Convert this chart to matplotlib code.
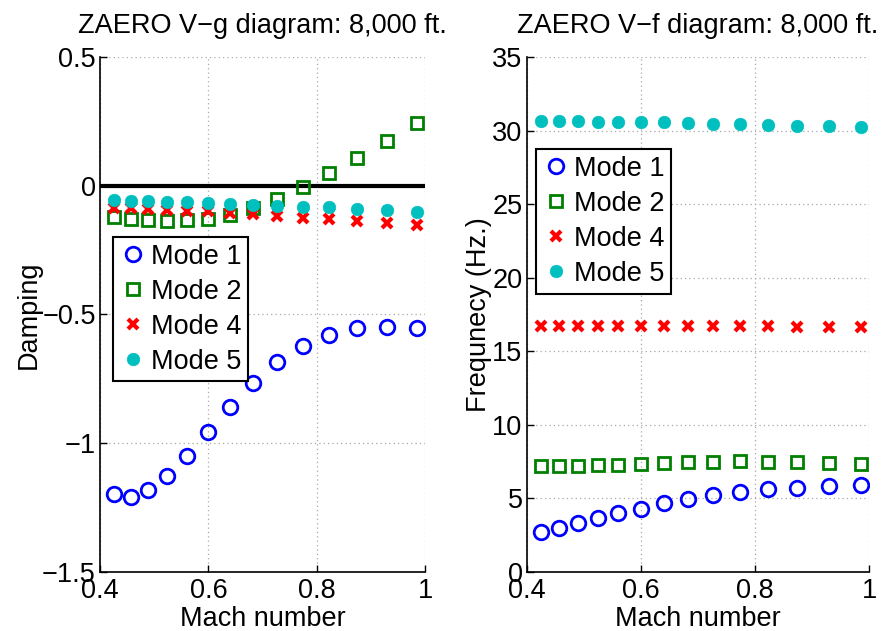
import matplotlib
matplotlib.use('Agg')
import matplotlib.pyplot as plt

plt.rcParams['font.family'] = ['Liberation Sans', 'DejaVu Sans']
plt.rcParams['font.size'] = 19.5

mach = [0.425, 0.457, 0.489, 0.524, 0.560, 0.600, 0.640, 0.682, 0.727,
        0.774, 0.823, 0.874, 0.929, 0.985]

# damping (V-g)
g_mode1 = [-1.198, -1.208, -1.182, -1.126, -1.049, -0.957, -0.859, -0.766,
           -0.685, -0.622, -0.578, -0.553, -0.547, -0.552]
g_mode2 = [-0.121, -0.128, -0.134, -0.137, -0.135, -0.128, -0.112, -0.086,
           -0.052, -0.006, 0.048, 0.108, 0.173, 0.244]
g_mode4 = [-0.085, -0.088, -0.091, -0.094, -0.097, -0.100, -0.105, -0.110,
           -0.118, -0.124, -0.131, -0.136, -0.143, -0.151]
g_mode5 = [-0.056, -0.058, -0.061, -0.064, -0.065, -0.066, -0.069, -0.074,
           -0.078, -0.082, -0.084, -0.091, -0.095, -0.101]

# frequency (V-f)
f_mode1 = [2.75, 2.98, 3.30, 3.64, 3.98, 4.30, 4.66, 4.95, 5.23, 5.43, 5.61,
           5.73, 5.84, 5.93]
f_mode2 = [7.18, 7.18, 7.20, 7.25, 7.30, 7.34, 7.39, 7.45, 7.50, 7.52, 7.50,
           7.45, 7.41, 7.32]
f_mode4 = [16.73, 16.73, 16.73, 16.73, 16.73, 16.73, 16.73, 16.73, 16.73,
           16.71, 16.71, 16.68, 16.68, 16.66]
f_mode5 = [30.66, 30.66, 30.64, 30.61, 30.59, 30.57, 30.55, 30.50, 30.45,
           30.43, 30.39, 30.34, 30.30, 30.23]

labels = ['Mode 1', 'Mode 2', 'Mode 4', 'Mode 5']
xticks = [0.4, 0.6, 0.8, 1.0]
xticklabels = ['0.4', '0.6', '0.8', '1']
g_ticks = [-1.5, -1.0, -0.5, 0.0, 0.5]
g_ticklabels = ['\u22121.5', '\u22121', '\u22120.5', '0', '0.5']
f_ticks = [0, 5, 10, 15, 20, 25, 30, 35]

styles = [
    dict(marker='o', mfc='none', mec='#0000ff', ms=10.5, mew=2.0, ls='none'),
    dict(marker='s', mfc='none', mec='#008000', ms=9, mew=2.0, ls='none'),
    dict(marker='x', mfc='none', mec='#ff0000', ms=7.5, mew=3.0, ls='none'),
    dict(marker='o', mfc='#00bfbf', mec='#00bfbf', ms=9, mew=0.5, ls='none'),
]


def style_axes(ax):
    ax.spines['top'].set_visible(False)
    ax.spines['right'].set_visible(False)
    ax.spines['left'].set_linewidth(1.2)
    ax.spines['bottom'].set_linewidth(1.2)
    ax.grid(True, ls=(0, (1, 2.5)), color='#a8a8a8', lw=0.9)
    ax.set_axisbelow(True)
    ax.tick_params(direction='in', length=5, width=1.0)
    ax.tick_params(axis='x', pad=4)
    ax.tick_params(axis='y', pad=3)
    ax.set_xlim(0.4, 1.0)
    ax.set_xticks(xticks)
    ax.set_xticklabels(xticklabels)


fig = plt.figure(figsize=(8.86, 6.31), dpi=100)

ax_g = fig.add_axes([0.1129, 0.0935, 0.3672, 0.8162])
ax_f = fig.add_axes([0.5945, 0.0935, 0.3867, 0.8162])

# V-g
ax_g.axhline(0, color='k', lw=3, zorder=1)
for y, st, lab in zip([g_mode1, g_mode2, g_mode4, g_mode5], styles, labels):
    ax_g.plot(mach, y, label=lab, zorder=3, **st)
style_axes(ax_g)
ax_g.set_ylim(-1.5, 0.5)
ax_g.set_yticks(g_ticks)
ax_g.set_yticklabels(g_ticklabels)
ax_g.set_title('ZAERO V\u2212g diagram: 8,000 ft.', fontsize=19.5, pad=17)
ax_g.set_xlabel('Mach number', labelpad=1.5)
ax_g.set_ylabel('Damping', labelpad=0)

# V-f
for y, st, lab in zip([f_mode1, f_mode2, f_mode4, f_mode5], styles, labels):
    ax_f.plot(mach, y, label=lab, zorder=3, **st)
style_axes(ax_f)
ax_f.set_ylim(0, 35)
ax_f.set_yticks(f_ticks)
ax_f.set_title('ZAERO V\u2212f diagram: 8,000 ft.', fontsize=19.5, pad=17)
ax_f.set_xlabel('Mach number', labelpad=1.5)
ax_f.set_ylabel('Frequnecy (Hz.)', labelpad=0)

for ax, anchor in [(ax_g, (0.04, 0.6505)), (ax_f, (0.026, 0.821))]:
    leg = ax.legend(loc='upper left', bbox_to_anchor=anchor, borderaxespad=0,
                    numpoints=1, handlelength=1.0, handletextpad=0.15,
                    labelspacing=0.33, borderpad=0.25, fancybox=False,
                    framealpha=1, edgecolor='k')
    leg.get_frame().set_linewidth(1.5)

fig.savefig('out.png', dpi=100)
